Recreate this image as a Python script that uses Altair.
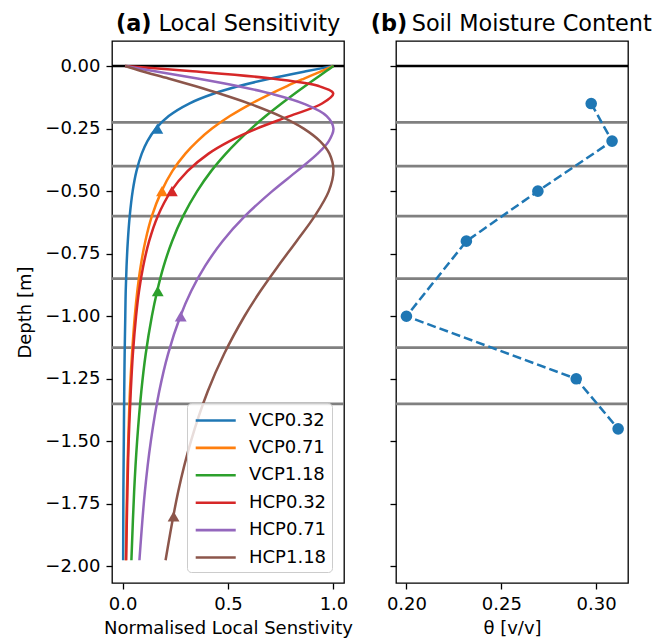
import altair as alt
import pandas as pd

# ---------------- data ----------------
depth = [0, -0.02, -0.05, -0.08, -0.11, -0.15, -0.2, -0.25, -0.3, -0.35, -0.42,
         -0.5, -0.6, -0.7, -0.8, -0.9, -1.0, -1.15, -1.3, -1.5, -1.7, -1.975]

series_names = ["VCP0.32", "VCP0.71", "VCP1.18", "HCP0.32", "HCP0.71", "HCP1.18"]
series_colors = ["#1f77b4", "#ff7f0e", "#2ca02c", "#d62728", "#9467bd", "#8c564b"]

vcp032 = [1.0, 0.876, 0.702, 0.553, 0.434, 0.316, 0.219, 0.158, 0.118, 0.091, 0.066,
          0.048, 0.034, 0.025, 0.019, 0.015, 0.013, 0.010, 0.008, 0.006, 0.004, 0.003]
vcp071 = [1.0, 0.944, 0.861, 0.780, 0.704, 0.611, 0.509, 0.424, 0.355, 0.298, 0.236,
          0.185, 0.139, 0.108, 0.086, 0.070, 0.058, 0.045, 0.035, 0.027, 0.021, 0.016]
vcp118 = [1.0, 0.966, 0.916, 0.866, 0.817, 0.754, 0.679, 0.610, 0.547, 0.490, 0.420,
          0.354, 0.287, 0.235, 0.195, 0.164, 0.139, 0.110, 0.089, 0.069, 0.055, 0.042]
hcp032 = [0.012, 0.317, 0.706, 0.930, 0.999, 0.946, 0.792, 0.636, 0.508, 0.408, 0.308,
          0.230, 0.167, 0.126, 0.098, 0.078, 0.064, 0.049, 0.039, 0.029, 0.023, 0.017]
hcp071 = [0.012, 0.146, 0.355, 0.544, 0.702, 0.858, 0.968, 1.000, 0.978, 0.925, 0.827,
          0.710, 0.580, 0.474, 0.391, 0.325, 0.274, 0.216, 0.174, 0.134, 0.106, 0.080]
hcp118 = [0.012, 0.088, 0.218, 0.343, 0.460, 0.601, 0.748, 0.859, 0.936, 0.981, 1.000,
          0.978, 0.911, 0.825, 0.737, 0.653, 0.578, 0.482, 0.404, 0.324, 0.264, 0.204]

# depth-of-investigation markers (triangles)
doi_depth = [-0.25, -0.5, -0.9, -0.5, -1.0, -1.8]
doi_value = [0.165, 0.187, 0.167, 0.234, 0.276, 0.242]

# soil moisture profile
sm_depth = [-0.15, -0.30, -0.50, -0.70, -1.00, -1.25, -1.45]
sm_theta = [0.2974, 0.3084, 0.2693, 0.2316, 0.2000, 0.2895, 0.3116]

# layer boundaries
boundaries = [-0.225, -0.40, -0.60, -0.85, -1.125, -1.35]

y_ticks = [0.0, -0.25, -0.5, -0.75, -1.0, -1.25, -1.5, -1.75, -2.0]
x_ticks_a = [0.0, 0.5, 1.0]
x_ticks_b = [0.20, 0.25, 0.30]

# ---------------- tables ----------------
all_vals = [vcp032, vcp071, vcp118, hcp032, hcp071, hcp118]
rows = []
for name, vals in zip(series_names, all_vals):
    for i, (d, v) in enumerate(zip(depth, vals)):
        rows.append({"series": name, "depth": d, "value": v, "idx": i})
curves = pd.DataFrame(rows)
doi = pd.DataFrame({"series": series_names, "depth": doi_depth, "value": doi_value})
sm = pd.DataFrame({"depth": sm_depth, "theta": sm_theta, "idx": list(range(len(sm_depth)))})
bnd = pd.DataFrame({"depth": boundaries})
zero = pd.DataFrame({"depth": [0.0]})

FONT = "DejaVu Sans"
FS = 18
W, H = 232, 542
ydom = [-2.066, 0.1]

color_scale = alt.Scale(domain=series_names, range=series_colors)
ysc = alt.Scale(domain=ydom, nice=False, zero=False)

def yaxis(show):
    if show:
        return alt.Axis(values=y_ticks, format=".2f", title="Depth [m]", titlePadding=10)
    return alt.Axis(values=y_ticks, labels=False, title=None, minExtent=0)

def title_layer(bold, rest, bx, rx):
    d = pd.DataFrame({"b": [bold], "r": [rest]})
    t1 = alt.Chart(d).mark_text(font=FONT, fontSize=22.4, fontWeight="bold", align="left",
                                baseline="alphabetic", color="black").encode(
        x=alt.value(bx), y=alt.value(-10), text="b:N")
    t2 = alt.Chart(d).mark_text(font=FONT, fontSize=22.4, align="left",
                                baseline="alphabetic", color="black").encode(
        x=alt.value(rx), y=alt.value(-10), text="r:N")
    return [t1, t2]

# ---------------- panel (a) ----------------
xa = alt.Scale(domain=[-0.05, 1.05], nice=False, zero=False)

rules_a = alt.Chart(bnd).mark_rule(color="#808080", strokeWidth=2.8).encode(
    y=alt.Y("depth:Q", scale=ysc, axis=yaxis(True)))
zero_a = alt.Chart(zero).mark_rule(color="black", strokeWidth=2.4).encode(
    y=alt.Y("depth:Q", scale=ysc))
lines_a = alt.Chart(curves).mark_line(strokeWidth=2.5, interpolate="catmull-rom").encode(
    x=alt.X("value:Q", scale=xa,
            axis=alt.Axis(values=x_ticks_a, format=".1f", title="Normalised Local Senstivity")),
    y=alt.Y("depth:Q", scale=ysc),
    color=alt.Color("series:N", scale=color_scale, sort=series_names,
                    legend=alt.Legend(title=None, orient="none", legendX=75, legendY=362,
                                      symbolType="M-0.8,0H2.84", symbolSize=484,
                                      symbolStrokeWidth=2.6, labelFontSize=FS, labelFont=FONT,
                                      labelOffset=32, rowPadding=5.4, padding=5,
                                      columnPadding=2,
                                      fillColor="rgba(255,255,255,0.8)", strokeColor="#cccccc",
                                      cornerRadius=4, labelColor="black")),
    order="idx:Q")
tri_a = alt.Chart(doi).mark_point(shape="triangle-up", filled=True, size=140, opacity=1).encode(
    x=alt.X("value:Q", scale=xa),
    y=alt.Y("depth:Q", scale=ysc),
    color=alt.Color("series:N", scale=color_scale, legend=None))

panel_a = alt.layer(rules_a, zero_a, lines_a, tri_a,
                    *title_layer("(a)", "Local Sensitivity", 4, 46.5)).properties(width=W, height=H)

# ---------------- panel (b) ----------------
xb = alt.Scale(domain=[0.1945, 0.3168], nice=False, zero=False)

rules_b = alt.Chart(bnd).mark_rule(color="#808080", strokeWidth=2.8).encode(
    y=alt.Y("depth:Q", scale=ysc, axis=yaxis(False)))
zero_b = alt.Chart(zero).mark_rule(color="black", strokeWidth=2.4).encode(
    y=alt.Y("depth:Q", scale=ysc))
line_b = alt.Chart(sm).mark_line(color="#1f77b4", strokeWidth=2.5, strokeDash=[9, 4]).encode(
    x=alt.X("theta:Q", scale=xb,
            axis=alt.Axis(values=x_ticks_b, format=".2f", title="θ [v/v]")),
    y=alt.Y("depth:Q", scale=ysc),
    order="idx:Q")
pts_b = alt.Chart(sm).mark_circle(color="#1f77b4", size=135, opacity=1).encode(
    x=alt.X("theta:Q", scale=xb),
    y=alt.Y("depth:Q", scale=ysc))

panel_b = alt.layer(rules_b, zero_b, line_b, pts_b,
                    *title_layer("(b)", "Soil Moisture Content", -25.3, 15.7)).properties(width=W, height=H)

chart = alt.hconcat(panel_a, panel_b, spacing=16).resolve_scale(
    x="independent", color="independent"
).properties(
    padding={"left": 8, "top": 4, "right": 2, "bottom": 0}
).configure_view(stroke="black", strokeWidth=1.3).configure_axis(
    domain=False, grid=False, tickSize=6, tickWidth=1.3, tickColor="black",
    labelFont=FONT, labelFontSize=FS, labelColor="black", labelPadding=6,
    titleFont=FONT, titleFontSize=FS, titleFontWeight="normal", titleColor="black",
    titlePadding=6
)

chart.save("out.html", embed_options={"renderer": "svg", "actions": False})
